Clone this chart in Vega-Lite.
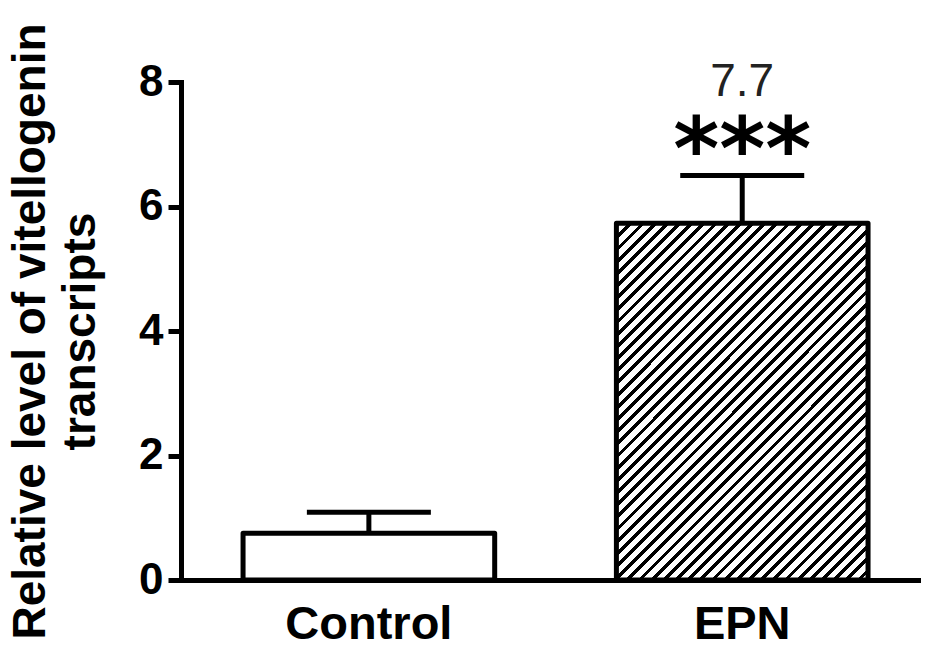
{
  "$schema": "https://vega.github.io/schema/vega-lite/v6.json",
  "width": 737,
  "height": 498,
  "autosize": "none",
  "padding": {"left": 181, "top": 82, "right": 8, "bottom": 76},
  "background": "white",
  "config": {"view": {"stroke": null}, "font": "Liberation Sans"},
  "data": {"values": [
    {"group": "Control", "mean": 0.75, "upper": 1.09, "sig": "", "note": ""},
    {"group": "EPN", "mean": 5.73, "upper": 6.5, "sig": "***", "note": "7.7"}
  ]},
  "encoding": {
    "x": {"field": "group", "type": "nominal", "sort": ["Control", "EPN"],
      "scale": {"paddingInner": 0.326, "paddingOuter": 0.15, "align": 0.554},
      "axis": {"title": null, "labelAngle": 0, "ticks": false, "domainColor": "black", "domainWidth": 5, "domainCap": "square",
        "labelFont": "Liberation Sans", "labelFontWeight": "bold", "labelFontSize": 47, "labelColor": "black", "labelPadding": 21}}
  },
  "layer": [
    {
      "mark": {"type": "rule", "stroke": "black", "strokeWidth": 5},
      "encoding": {
        "y": {"field": "mean", "type": "quantitative", "scale": {"domain": [0, 8], "nice": false},
          "axis": {"values": [0, 2, 4, 6, 8], "format": "d", "grid": false, "domainColor": "black", "domainWidth": 5, "domainCap": "square",
            "tickColor": "black", "tickWidth": 5, "tickSize": 13, "labelPadding": 5,
            "labelFont": "Liberation Sans", "labelFontWeight": "bold", "labelFontSize": 44, "labelColor": "black",
            "title": ["Relative level of vitellogenin", "transcripts"], "titleFont": "Liberation Sans", "titleFontWeight": "bold",
            "titleFontSize": 46, "titleColor": "black", "titleLineHeight": 50, "titlePadding": 34}},
        "y2": {"field": "upper"}
      }
    },
    {
      "transform": [{"filter": "datum.group === 'Control'"}],
      "mark": {"type": "bar", "fill": "white", "stroke": "black", "strokeWidth": 5, "strokeJoin": "round"},
      "encoding": {"y": {"field": "mean", "type": "quantitative"}}
    },
    {
      "transform": [{"filter": "datum.group === 'EPN'"}],
      "mark": {"type": "bar", "stroke": "black", "strokeWidth": 5, "strokeJoin": "round",
        "fill": {"gradient": "linear", "x1": 0, "y1": 0, "x2": 0.804, "y2": 1.139, "stops": [
{"offset":0,"color":"#000"},{"offset":0.008,"color":"#000"},{"offset":0.008,"color":"#fff"},{"offset":0.02,"color":"#fff"},
{"offset":0.02,"color":"#000"},{"offset":0.028,"color":"#000"},{"offset":0.028,"color":"#fff"},{"offset":0.04,"color":"#fff"},
{"offset":0.04,"color":"#000"},{"offset":0.048,"color":"#000"},{"offset":0.048,"color":"#fff"},{"offset":0.06,"color":"#fff"},
{"offset":0.06,"color":"#000"},{"offset":0.068,"color":"#000"},{"offset":0.068,"color":"#fff"},{"offset":0.08,"color":"#fff"},
{"offset":0.08,"color":"#000"},{"offset":0.088,"color":"#000"},{"offset":0.088,"color":"#fff"},{"offset":0.1,"color":"#fff"},
{"offset":0.1,"color":"#000"},{"offset":0.108,"color":"#000"},{"offset":0.108,"color":"#fff"},{"offset":0.12,"color":"#fff"},
{"offset":0.12,"color":"#000"},{"offset":0.128,"color":"#000"},{"offset":0.128,"color":"#fff"},{"offset":0.14,"color":"#fff"},
{"offset":0.14,"color":"#000"},{"offset":0.148,"color":"#000"},{"offset":0.148,"color":"#fff"},{"offset":0.16,"color":"#fff"},
{"offset":0.16,"color":"#000"},{"offset":0.168,"color":"#000"},{"offset":0.168,"color":"#fff"},{"offset":0.18,"color":"#fff"},
{"offset":0.18,"color":"#000"},{"offset":0.188,"color":"#000"},{"offset":0.188,"color":"#fff"},{"offset":0.2,"color":"#fff"},
{"offset":0.2,"color":"#000"},{"offset":0.208,"color":"#000"},{"offset":0.208,"color":"#fff"},{"offset":0.22,"color":"#fff"},
{"offset":0.22,"color":"#000"},{"offset":0.228,"color":"#000"},{"offset":0.228,"color":"#fff"},{"offset":0.24,"color":"#fff"},
{"offset":0.24,"color":"#000"},{"offset":0.248,"color":"#000"},{"offset":0.248,"color":"#fff"},{"offset":0.26,"color":"#fff"},
{"offset":0.26,"color":"#000"},{"offset":0.268,"color":"#000"},{"offset":0.268,"color":"#fff"},{"offset":0.28,"color":"#fff"},
{"offset":0.28,"color":"#000"},{"offset":0.288,"color":"#000"},{"offset":0.288,"color":"#fff"},{"offset":0.3,"color":"#fff"},
{"offset":0.3,"color":"#000"},{"offset":0.308,"color":"#000"},{"offset":0.308,"color":"#fff"},{"offset":0.32,"color":"#fff"},
{"offset":0.32,"color":"#000"},{"offset":0.328,"color":"#000"},{"offset":0.328,"color":"#fff"},{"offset":0.34,"color":"#fff"},
{"offset":0.34,"color":"#000"},{"offset":0.348,"color":"#000"},{"offset":0.348,"color":"#fff"},{"offset":0.36,"color":"#fff"},
{"offset":0.36,"color":"#000"},{"offset":0.368,"color":"#000"},{"offset":0.368,"color":"#fff"},{"offset":0.38,"color":"#fff"},
{"offset":0.38,"color":"#000"},{"offset":0.388,"color":"#000"},{"offset":0.388,"color":"#fff"},{"offset":0.4,"color":"#fff"},
{"offset":0.4,"color":"#000"},{"offset":0.408,"color":"#000"},{"offset":0.408,"color":"#fff"},{"offset":0.42,"color":"#fff"},
{"offset":0.42,"color":"#000"},{"offset":0.428,"color":"#000"},{"offset":0.428,"color":"#fff"},{"offset":0.44,"color":"#fff"},
{"offset":0.44,"color":"#000"},{"offset":0.448,"color":"#000"},{"offset":0.448,"color":"#fff"},{"offset":0.46,"color":"#fff"},
{"offset":0.46,"color":"#000"},{"offset":0.468,"color":"#000"},{"offset":0.468,"color":"#fff"},{"offset":0.48,"color":"#fff"},
{"offset":0.48,"color":"#000"},{"offset":0.488,"color":"#000"},{"offset":0.488,"color":"#fff"},{"offset":0.5,"color":"#fff"},
{"offset":0.5,"color":"#000"},{"offset":0.508,"color":"#000"},{"offset":0.508,"color":"#fff"},{"offset":0.52,"color":"#fff"},
{"offset":0.52,"color":"#000"},{"offset":0.528,"color":"#000"},{"offset":0.528,"color":"#fff"},{"offset":0.54,"color":"#fff"},
{"offset":0.54,"color":"#000"},{"offset":0.548,"color":"#000"},{"offset":0.548,"color":"#fff"},{"offset":0.56,"color":"#fff"},
{"offset":0.56,"color":"#000"},{"offset":0.568,"color":"#000"},{"offset":0.568,"color":"#fff"},{"offset":0.58,"color":"#fff"},
{"offset":0.58,"color":"#000"},{"offset":0.588,"color":"#000"},{"offset":0.588,"color":"#fff"},{"offset":0.6,"color":"#fff"},
{"offset":0.6,"color":"#000"},{"offset":0.608,"color":"#000"},{"offset":0.608,"color":"#fff"},{"offset":0.62,"color":"#fff"},
{"offset":0.62,"color":"#000"},{"offset":0.628,"color":"#000"},{"offset":0.628,"color":"#fff"},{"offset":0.64,"color":"#fff"},
{"offset":0.64,"color":"#000"},{"offset":0.648,"color":"#000"},{"offset":0.648,"color":"#fff"},{"offset":0.66,"color":"#fff"},
{"offset":0.66,"color":"#000"},{"offset":0.668,"color":"#000"},{"offset":0.668,"color":"#fff"},{"offset":0.68,"color":"#fff"},
{"offset":0.68,"color":"#000"},{"offset":0.688,"color":"#000"},{"offset":0.688,"color":"#fff"},{"offset":0.7,"color":"#fff"},
{"offset":0.7,"color":"#000"},{"offset":0.708,"color":"#000"},{"offset":0.708,"color":"#fff"},{"offset":0.72,"color":"#fff"},
{"offset":0.72,"color":"#000"},{"offset":0.728,"color":"#000"},{"offset":0.728,"color":"#fff"},{"offset":0.74,"color":"#fff"},
{"offset":0.74,"color":"#000"},{"offset":0.748,"color":"#000"},{"offset":0.748,"color":"#fff"},{"offset":0.76,"color":"#fff"},
{"offset":0.76,"color":"#000"},{"offset":0.768,"color":"#000"},{"offset":0.768,"color":"#fff"},{"offset":0.78,"color":"#fff"},
{"offset":0.78,"color":"#000"},{"offset":0.788,"color":"#000"},{"offset":0.788,"color":"#fff"},{"offset":0.8,"color":"#fff"},
{"offset":0.8,"color":"#000"},{"offset":0.808,"color":"#000"},{"offset":0.808,"color":"#fff"},{"offset":0.82,"color":"#fff"},
{"offset":0.82,"color":"#000"},{"offset":0.828,"color":"#000"},{"offset":0.828,"color":"#fff"},{"offset":0.84,"color":"#fff"},
{"offset":0.84,"color":"#000"},{"offset":0.848,"color":"#000"},{"offset":0.848,"color":"#fff"},{"offset":0.86,"color":"#fff"},
{"offset":0.86,"color":"#000"},{"offset":0.868,"color":"#000"},{"offset":0.868,"color":"#fff"},{"offset":0.88,"color":"#fff"},
{"offset":0.88,"color":"#000"},{"offset":0.888,"color":"#000"},{"offset":0.888,"color":"#fff"},{"offset":0.9,"color":"#fff"},
{"offset":0.9,"color":"#000"},{"offset":0.908,"color":"#000"},{"offset":0.908,"color":"#fff"},{"offset":0.92,"color":"#fff"},
{"offset":0.92,"color":"#000"},{"offset":0.928,"color":"#000"},{"offset":0.928,"color":"#fff"},{"offset":0.94,"color":"#fff"},
{"offset":0.94,"color":"#000"},{"offset":0.948,"color":"#000"},{"offset":0.948,"color":"#fff"},{"offset":0.96,"color":"#fff"},
{"offset":0.96,"color":"#000"},{"offset":0.968,"color":"#000"},{"offset":0.968,"color":"#fff"},{"offset":0.98,"color":"#fff"},
{"offset":0.98,"color":"#000"},{"offset":0.988,"color":"#000"},{"offset":0.988,"color":"#fff"},{"offset":1,"color":"#fff"}
        ]}},
      "encoding": {"y": {"field": "mean", "type": "quantitative"}}
    },
    {
      "mark": {"type": "tick", "color": "black", "thickness": 5, "size": 124, "opacity": 1},
      "encoding": {"y": {"field": "upper", "type": "quantitative"}}
    },
    {
      "mark": {"type": "text", "font": "DejaVu Sans", "fontWeight": "bold", "fontSize": 88, "color": "black", "baseline": "alphabetic", "dy": 4},
      "encoding": {"y": {"field": "upper", "type": "quantitative"}, "text": {"field": "sig"}}
    },
    {
      "mark": {"type": "text", "font": "Liberation Sans", "fontSize": 46, "color": "#222", "baseline": "alphabetic", "dy": -79},
      "encoding": {"y": {"field": "upper", "type": "quantitative"}, "text": {"field": "note"}}
    }
  ]
}
